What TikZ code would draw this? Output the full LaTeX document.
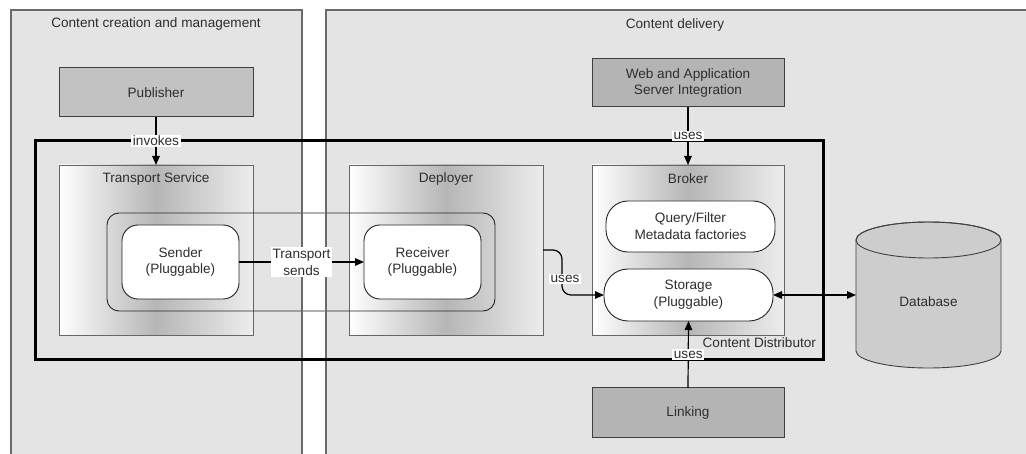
\documentclass[tikz,border=0pt]{standalone}
\usepackage{fontspec}
\setmainfont{Liberation Sans}
\usetikzlibrary{arrows.meta,calc}
\definecolor{panelfill}{HTML}{E4E4E4}
\definecolor{panelline}{HTML}{6A6A6A}
\definecolor{boxdark}{HTML}{B4B4B4}
\definecolor{boxlight}{HTML}{C2C2C2}
\definecolor{boxline}{HTML}{404040}
\definecolor{shademid}{HTML}{B6B6B6}
\definecolor{shaderight}{HTML}{EDEDED}
\definecolor{dbfill}{HTML}{CDCDCD}
\definecolor{txt}{HTML}{2E2E2E}
\tikzset{
  every node/.style={font=\fontsize{13.6}{16.8}\selectfont, text=txt, inner sep=0pt, outer sep=0pt},
  panel/.style={fill=panelfill},
  panelborder/.style={draw=panelline, line width=1.1pt},
  greybox/.style={draw=boxline, line width=1pt, align=center},
  shadebox/.style={draw=boxline!80, line width=0.8pt, left color=white, right color=shaderight, middle color=shademid},
  pill/.style={draw=black!85, line width=0.9pt, fill=white, align=center},
  groupbox/.style={draw=black!85, line width=0.9pt, rounded corners=12pt},
  frame/.style={draw=black, line width=3pt},
  arr/.style={draw=black, line width=1.2pt, -{Triangle[length=9pt,width=7.5pt]}},
  biarr/.style={draw=black, line width=1.2pt, {Triangle[length=9pt,width=7.5pt]}-{Triangle[length=9pt,width=7.5pt]}},
  lbl/.style={fill=white, draw=none, sharp corners, inner sep=1.5pt, align=center},
}
\begin{document}
\begin{tikzpicture}[x=1pt,y=-1pt]
\fill[white] (0,0) rectangle (1026,454);
\useasboundingbox (0,0) rectangle (1026,454);
\clip (0,0) rectangle (1026,454);

% swim lanes
\fill[panel] (11,10) rectangle (302,470);
\fill[panel] (326,10) rectangle (1040,470);
\node (titleL) at (156,24) {Content creation and management};
\node (titleR) at (675,25) {Content delivery};

% external components
\node[greybox, fill=boxlight, minimum width=194pt, minimum height=49pt] (pub) at (156,92.5) {Publisher};
\node[greybox, fill=boxdark, minimum width=192pt, minimum height=48pt] (web) at (688,83) {Web and Application\\Server Integration};
\node[greybox, fill=boxdark, minimum width=192pt, minimum height=49pt] (link) at (688,412.5) {Linking};

% distributor components
\node[shadebox, minimum width=194pt, minimum height=170pt] (ts) at (156,250) {};
\node[shadebox, minimum width=194pt, minimum height=170pt] (dep) at (446,250) {};
\node[shadebox, minimum width=192pt, minimum height=170pt] (brk) at (688,250) {};
\node (tsT) at ($(ts.north)+(0,14)$) {Transport Service};
\node (depT) at ($(dep.north)+(0,14)$) {Deployer};
\node (brkT) at ($(brk.north)+(0,14)$) {Broker};

\node[groupbox, minimum width=388pt, minimum height=98pt] (grp) at (301,262) {};

\node[pill, rounded corners=16pt, minimum width=117pt, minimum height=74pt] (snd) at (180.5,262) {Sender\\(Pluggable)};
\node[pill, rounded corners=16pt, minimum width=117pt, minimum height=74pt] (rcv) at (422.5,262) {Receiver\\(Pluggable)};
\node[pill, rounded corners=22pt, minimum width=169pt, minimum height=51pt] (qf) at (690.5,226.5) {Query/Filter\\Metadata factories};
\node[pill, rounded corners=24pt, minimum width=169pt, minimum height=52pt] (sto) at (688.5,295) {Storage\\(Pluggable)};

% database cylinder
\node[minimum width=145pt, minimum height=146pt] (db) at (928.5,295) {};
\filldraw[fill=dbfill, draw=boxline, line width=0.9pt]
  (856,240) -- (856,351) arc[start angle=180, end angle=360, x radius=72.5pt, y radius=17pt]
  -- (1001,240) arc[start angle=0, end angle=180, x radius=72.5pt, y radius=18pt] -- cycle;
\draw[boxline, line width=0.9pt] (928.5,240) ellipse[x radius=72.5pt, y radius=18pt];
\node (dbT) at (928.5,302) {Database};

% lane borders
\draw[panelborder] (11,470) -- (11,10) -- (302,10) -- (302,470);
\draw[panelborder] (326,470) -- (326,10) -- (1040,10);

% content distributor frame
\node[frame, minimum width=788pt, minimum height=219pt] (cd) at (429,250.5) {};
\node[anchor=east] (cdT) at (816,343) {Content Distributor};

% connectors
\draw[arr] (pub.south) -- node[lbl]{invokes} (ts.north);
\draw[arr] (web.south) -- node[lbl]{uses} (brk.north);
\draw[arr] (link.north) -- node[lbl]{uses} (sto.south);
\draw[arr] (snd.east) -- node[lbl]{Transport\\sends} (rcv.west);
\coordinate (bendA) at (562,250);
\coordinate (bendB) at (562,295);
\draw[arr, rounded corners=9pt] (dep.east) -- (bendA) -- node[lbl, xshift=3pt, yshift=-6.5pt]{uses} (bendB) -- (sto.west);
\draw[biarr] (sto.east) -- (sto.east -| db.west);
\end{tikzpicture}
\end{document}
